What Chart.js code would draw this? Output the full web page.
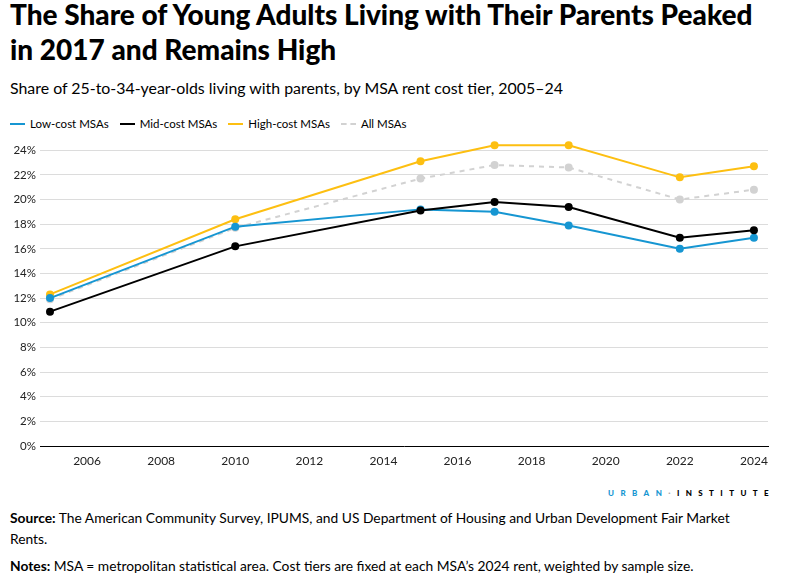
<!DOCTYPE html>
<html lang="en">
<head>
<meta charset="UTF-8">
<title>Young Adults Living with Parents</title>
<script src="https://cdn.jsdelivr.net/npm/chart.js"></script>
<style>
  body { margin: 0; width: 801px; height: 586px; background: #fff; font-family: Lato, sans-serif; color: #000; position: relative; overflow: hidden; }
  #title { position: absolute; left: 10px; top: -3px; width: 765px; font-size: 28px; font-weight: 900; line-height: 35px; }
  #subtitle { position: absolute; left: 10px; top: 78px; font-size: 15.9px; }
  #legend { position: absolute; left: 10px; top: 117px; font-size: 11.5px; display: flex; }
  #legend span.item { display: flex; align-items: center; margin-right: 11px; }
  #legend span.sw { display: inline-block; width: 15px; height: 0; border-top: 2px solid; margin-right: 5px; }
  #chartBox { position: absolute; left: 0; top: 127px; width: 801px; height: 353px; }
  #logo { position: absolute; right: 26px; top: 488px; font-size: 8px; font-weight: 900; letter-spacing: 6.4px; }
  #source { position: absolute; left: 10px; top: 507px; width: 740px; font-size: 13.8px; line-height: 21px; }
  #notes { position: absolute; left: 10px; top: 557px; font-size: 13.8px; }
</style>
</head>
<body>
<div id="title">The Share of Young Adults Living with Their Parents Peaked in 2017 and Remains High</div>
<div id="subtitle">Share of 25-to-34-year-olds living with parents, by MSA rent cost tier, 2005–24</div>
<div id="legend">
  <span class="item"><span class="sw" style="border-color:#1696d2"></span>Low-cost MSAs</span>
  <span class="item"><span class="sw" style="border-color:#000"></span>Mid-cost MSAs</span>
  <span class="item"><span class="sw" style="border-color:#fdbf11"></span>High-cost MSAs</span>
  <span class="item"><span class="sw" style="border-color:#d2d2d2;border-top-style:dashed"></span>All MSAs</span>
</div>
<div id="chartBox"><canvas id="myChart"></canvas></div>
<div id="logo"><span style="color:#1696d2">URBAN</span><span style="color:#aaa">·</span>INSTITUTE</div>
<div id="source"><b>Source:</b> The American Community Survey, IPUMS, and US Department of Housing and Urban Development Fair Market Rents.</div>
<div id="notes"><b>Notes:</b> MSA = metropolitan statistical area. Cost tiers are fixed at each MSA’s 2024 rent, weighted by sample size.</div>
<script>
const years = [2005, 2010, 2015, 2017, 2019, 2022, 2024];
const lowCost = [12.0, 17.8, 19.2, 19.0, 17.9, 16.0, 16.9];
const midCost = [10.9, 16.2, 19.1, 19.8, 19.4, 16.9, 17.5];
const highCost = [12.3, 18.4, 23.1, 24.4, 24.4, 21.8, 22.7];
const allMsas = [11.9, 17.7, 21.7, 22.8, 22.6, 20.0, 20.8];
const xTicks = [2006, 2008, 2010, 2012, 2014, 2016, 2018, 2020, 2022, 2024];
const yTicks = [0, 2, 4, 6, 8, 10, 12, 14, 16, 18, 20, 22, 24];

function pts(vals) {
    return years.map((y, i) => ({x: y, y: vals[i]}));
}
function line(label, vals, color, order, dash) {
    return {
        label: label,
        data: pts(vals),
        borderColor: color,
        backgroundColor: color,
        pointBackgroundColor: color,
        pointBorderColor: color,
        borderWidth: 2,
        pointRadius: 4,
        pointBorderWidth: 0,
        borderDash: dash || [],
        order: order,
        tension: 0
    };
}

const ctx = document.getElementById('myChart').getContext('2d');
const myChart = new Chart(ctx, {
    type: 'line',
    data: {
        datasets: [
            line('Low-cost MSAs', lowCost, '#1696d2', 1),
            line('Mid-cost MSAs', midCost, '#000000', 0),
            line('High-cost MSAs', highCost, '#fdbf11', 2),
            line('All MSAs', allMsas, '#d2d2d2', 3, [5, 5])
        ]
    },
    options: {
        responsive: true,
        maintainAspectRatio: false,
        animation: false,
        layout: { padding: { top: 5, right: 33, left: 0, bottom: 0 } },
        plugins: { legend: { display: false }, tooltip: { enabled: false } },
        scales: {
            x: {
                type: 'linear',
                min: 2004.73,
                max: 2024.38,
                afterBuildTicks: s => { s.ticks = xTicks.map(v => ({value: v})); },
                afterFit: s => { s.height = 34; },
                grid: { display: false, drawTicks: false },
                border: { display: true, color: '#000', width: 1 },
                ticks: { padding: 8, color: '#222', font: { family: 'Lato', size: 12 }, maxRotation: 0, callback: v => String(v) }
            },
            y: {
                min: 0,
                max: 25,
                afterBuildTicks: s => { s.ticks = yTicks.map(v => ({value: v})); },
                afterFit: s => { s.width = 40; },
                grid: { color: '#dcdcdc', drawTicks: false },
                border: { display: false },
                ticks: { padding: 4, color: '#222', font: { family: 'Lato', size: 11.5 }, callback: v => v + '%' }
            }
        }
    }
});
</script>
</body>
</html>
